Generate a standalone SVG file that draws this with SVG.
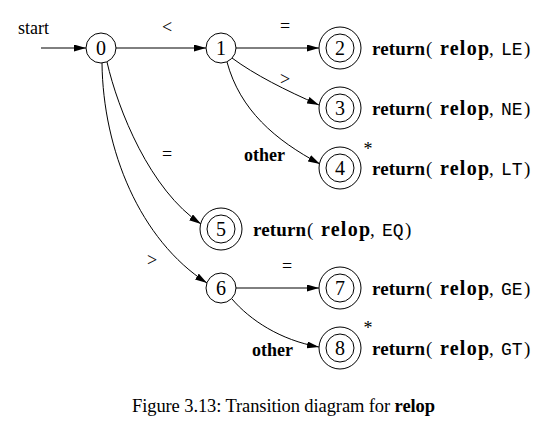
<svg xmlns="http://www.w3.org/2000/svg" width="555" height="433" viewBox="0 0 555 433">
<style>
  .bg { fill: #ffffff; }
  .st { fill: #ffffff; stroke: #000; stroke-width: 1; }
  .num { font-family: "Liberation Serif", serif; font-size: 20px; text-anchor: middle; fill: #000; }
  .lbl { font-family: "Liberation Serif", serif; font-size: 18px; fill: #000; }
  .bold { font-family: "Liberation Serif", serif; font-size: 18px; font-weight: bold; fill: #000; }
  .ret { font-family: "Liberation Serif", serif; font-size: 19px; fill: #000; }
  .b { font-weight: bold; }
  .rl { font-weight: bold; font-size: 20px; }
  .tt { font-family: "Liberation Mono", monospace; font-size: 18px; }
  .edge { fill: none; stroke: #000; stroke-width: 1; marker-end: url(#arr); }
  .cap { font-family: "Liberation Serif", serif; font-size: 18.5px; fill: #000; }
</style>
<defs>
  <marker id="arr" markerUnits="userSpaceOnUse" markerWidth="13" markerHeight="8" refX="12" refY="3.5" orient="auto">
    <path d="M0,0 L12,3.5 L0,7 z" fill="#000"/>
  </marker>
</defs>
<rect class="bg" x="0" y="0" width="555" height="433"/>

<g id="connectors">
  <path class="edge" d="M41,48 L86,48"/>
  <path class="edge" d="M116,48 L206,48"/>
  <path class="edge" d="M236,48 L319,48"/>
  <path class="edge" d="M232,58 C255,75 285,90 319,105"/>
  <path class="edge" d="M227,62 C240,110 275,140 320,164"/>
  <path class="edge" d="M107,62 C118,110 150,190 201,224"/>
  <path class="edge" d="M102,63 C103,150 140,240 207,283"/>
  <path class="edge" d="M236,288 L319,288"/>
  <path class="edge" d="M232,299 C250,320 280,340 319,347"/>
  <text class="lbl" x="18" y="34">start</text>
  <text class="lbl" x="167" y="33" text-anchor="middle">&lt;</text>
  <text class="lbl" x="285" y="32" text-anchor="middle">=</text>
  <text class="lbl" x="285" y="85" text-anchor="middle">&gt;</text>
  <text class="bold" x="244" y="161">other</text>
  <text class="lbl" x="167" y="160" text-anchor="middle">=</text>
  <text class="lbl" x="152" y="266" text-anchor="middle">&gt;</text>
  <text class="lbl" x="287" y="272" text-anchor="middle">=</text>
  <text class="bold" x="252" y="356">other</text>
</g>

<g id="node0">
  <circle class="st" cx="101" cy="48" r="15"/>
  <text class="num" x="101" y="55">0</text>
</g>
<g id="node1">
  <circle class="st" cx="221" cy="48" r="15"/>
  <text class="num" x="221" y="55">1</text>
</g>
<g id="node2">
  <circle class="st" cx="340" cy="48" r="21"/>
  <circle class="st" cx="340" cy="48" r="14"/>
  <text class="num" x="340" y="55">2</text>
  <text class="ret" y="55"><tspan x="372" class="b" textLength="53">return</tspan><tspan x="426">(</tspan><tspan x="440" class="rl" textLength="49">relop</tspan><tspan x="489">,</tspan><tspan x="501" class="tt">LE</tspan><tspan x="524">)</tspan></text>
</g>
<g id="node3">
  <circle class="st" cx="340" cy="108" r="21"/>
  <circle class="st" cx="340" cy="108" r="14"/>
  <text class="num" x="340" y="115">3</text>
  <text class="ret" y="115"><tspan x="372" class="b" textLength="53">return</tspan><tspan x="426">(</tspan><tspan x="440" class="rl" textLength="49">relop</tspan><tspan x="489">,</tspan><tspan x="501" class="tt">NE</tspan><tspan x="524">)</tspan></text>
</g>
<g id="node4">
  <circle class="st" cx="340" cy="168" r="21"/>
  <circle class="st" cx="340" cy="168" r="14"/>
  <text class="num" x="340" y="175">4</text>
  <text class="lbl" x="368" y="155" text-anchor="middle">*</text>
  <text class="ret" y="175"><tspan x="372" class="b" textLength="53">return</tspan><tspan x="426">(</tspan><tspan x="440" class="rl" textLength="49">relop</tspan><tspan x="489">,</tspan><tspan x="501" class="tt">LT</tspan><tspan x="524">)</tspan></text>
</g>
<g id="node5">
  <circle class="st" cx="221" cy="229" r="21"/>
  <circle class="st" cx="221" cy="229" r="14"/>
  <text class="num" x="221" y="236">5</text>
  <text class="ret" y="236"><tspan x="253" class="b" textLength="53">return</tspan><tspan x="307">(</tspan><tspan x="321" class="rl" textLength="49">relop</tspan><tspan x="370">,</tspan><tspan x="382" class="tt">EQ</tspan><tspan x="405">)</tspan></text>
</g>
<g id="node6">
  <circle class="st" cx="221" cy="288" r="15"/>
  <text class="num" x="221" y="295">6</text>
</g>
<g id="node7">
  <circle class="st" cx="340" cy="288" r="21"/>
  <circle class="st" cx="340" cy="288" r="14"/>
  <text class="num" x="340" y="295">7</text>
  <text class="ret" y="295"><tspan x="372" class="b" textLength="53">return</tspan><tspan x="426">(</tspan><tspan x="440" class="rl" textLength="49">relop</tspan><tspan x="489">,</tspan><tspan x="501" class="tt">GE</tspan><tspan x="524">)</tspan></text>
</g>
<g id="node8">
  <circle class="st" cx="340" cy="348" r="21"/>
  <circle class="st" cx="340" cy="348" r="14"/>
  <text class="num" x="340" y="355">8</text>
  <text class="lbl" x="368" y="334" text-anchor="middle">*</text>
  <text class="ret" y="355"><tspan x="372" class="b" textLength="53">return</tspan><tspan x="426">(</tspan><tspan x="440" class="rl" textLength="49">relop</tspan><tspan x="489">,</tspan><tspan x="501" class="tt">GT</tspan><tspan x="524">)</tspan></text>
</g>

<text class="cap" x="132" y="412" textLength="303" lengthAdjust="spacing">Figure 3.13: Transition diagram for <tspan font-weight="bold">relop</tspan></text>
</svg>
